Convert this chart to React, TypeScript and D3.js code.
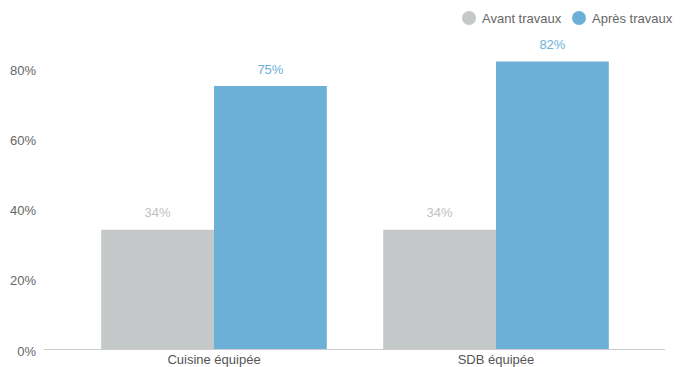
import React from "react";
import * as d3 from "d3";

const categories = ["Cuisine équipée", "SDB équipée"];
const seriesNames = ["Avant travaux", "Après travaux"];
const avant = [34, 34];
const apres = [75, 82];
const yTicks = [0, 20, 40, 60, 80];

const W = 683;
const H = 367;
const colors = ["#c5c8c9", "#6cb0d8"];
const labelColors = ["#bfc2c3", "#6cb0d8"];

export default function App() {
  const x0 = d3.scaleBand<string>().domain(categories).range([73, 637]);
  const y = d3.scaleLinear().domain([0, 80]).range([349, 68.5]);
  const series = [avant, apres];
  const font = "'Liberation Sans', Arial, sans-serif";

  return (
    <svg width={W} height={H} style={{ position: "absolute", left: 0, top: 0 }} fontFamily={font}>
      <rect width={W} height={H} fill="#fff" />
      {yTicks.map((t) => (
        <text key={t} x={36} y={y(t) + 2} dy="0.35em" textAnchor="end" fontSize={13} fill="#666">
          {t}%
        </text>
      ))}
      <line x1={44} x2={665} y1={349.5} y2={349.5} stroke="#ccc" strokeWidth={1} />
      {categories.map((c, i) => {
        const center = (x0(c) as number) + x0.bandwidth() / 2;
        const bw = x0.bandwidth() * 0.4;
        return (
          <g key={c}>
            {series.map((s, j) => {
              const bx = center - bw + j * bw;
              return (
                <g key={j}>
                  <rect x={bx} y={y(s[i])} width={bw} height={349 - y(s[i])} fill={colors[j]} />
                  <text x={bx + bw / 2} y={y(s[i]) - 12.5} textAnchor="middle" fontSize={13} fill={labelColors[j]}>
                    {s[i]}%
                  </text>
                </g>
              );
            })}
            <text x={center} y={364} textAnchor="middle" fontSize={13} fill="#555">
              {c}
            </text>
          </g>
        );
      })}
      {seriesNames.map((n, j) => {
        const lx = j === 0 ? 469 : 579;
        return (
          <g key={n}>
            <circle cx={lx} cy={18} r={7} fill={colors[j]} />
            <text x={lx + 13} y={18} dy="0.35em" fontSize={13} fill="#666">
              {n}
            </text>
          </g>
        );
      })}
    </svg>
  );
}
